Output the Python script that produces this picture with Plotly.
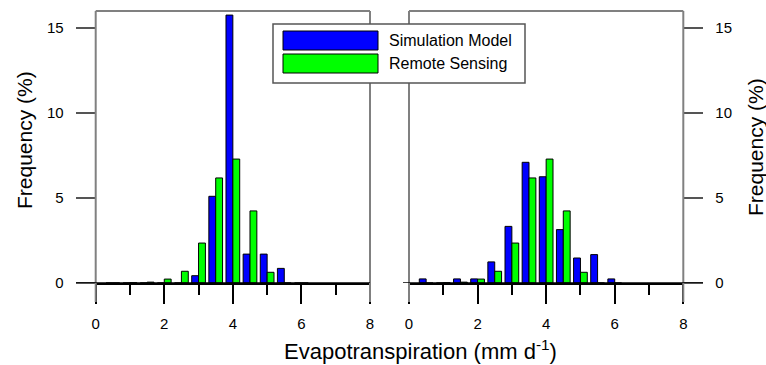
import plotly.graph_objects as go

# ---- data ----
bins = [0.5, 1.0, 1.5, 2.0, 2.5, 3.0, 3.5, 4.0, 4.5, 5.0, 5.5, 6.0]
sim_left = [0, 0, 0, 0, 0, 0.43, 5.1, 15.76, 1.7, 1.7, 0.86, 0]
sim_right = [0.24, 0, 0.24, 0.24, 1.24, 3.33, 7.10, 6.25, 3.14, 1.47, 1.67, 0.24]
remote = [0, 0.02, 0.05, 0.23, 0.69, 2.35, 6.18, 7.29, 4.24, 0.63, 0, 0]
x_ticks = [0, 2, 4, 6, 8]
y_ticks = [0, 5, 10, 15]
series_names = ["Simulation Model", "Remote Sensing"]
x_title = "Evapotranspiration (mm d<sup>-1</sup>)"
y_title = "Frequency (%)"

W, H = 766, 365
BLUE, GREEN = "#0000ff", "#00ff00"
FRAME = "#808080"
FONT = "Arial, Liberation Sans, sans-serif"


def px(x):
    return x / W


def py(y):
    return 1 - y / H


L1, R1 = 95.7, 370.0
L2, R2 = 409.0, 683.3
TOP, BOT = 11.0, 283.0

fig = go.Figure()
for xa, ya, sim in (("x", "y", sim_left), ("x2", "y2", sim_right)):
    fig.add_bar(x=bins, y=sim, width=0.2, offset=-0.2, xaxis=xa, yaxis=ya,
                marker=dict(color=BLUE, line=dict(color="black", width=1)),
                name=series_names[0], showlegend=False)
    fig.add_bar(x=bins, y=remote, width=0.2, offset=0, xaxis=xa, yaxis=ya,
                marker=dict(color=GREEN, line=dict(color="black", width=1)),
                name=series_names[1], showlegend=False)

xaxis_common = dict(range=[0, 8], tickvals=x_ticks, ticks="outside", ticklen=19,
                    tickwidth=1.5, tickcolor="black", showgrid=False, zeroline=False,
                    showline=True, linecolor="black", linewidth=1.5, automargin=False,
                    tickfont=dict(family=FONT, size=15, color="black"),
                    minor=dict(ticks="outside", ticklen=10, tickwidth=1.5, dtick=1,
                               tickcolor="black", showgrid=False),
                    ticklabelstandoff=7, fixedrange=True)
yaxis_common = dict(range=[0, 16], tickvals=y_ticks, ticks="outside", ticklen=19,
                    tickwidth=1.5, tickcolor="#555555", showgrid=False, zeroline=False,
                    showline=False, automargin=False,
                    tickfont=dict(family=FONT, size=15, color="black"),
                    ticklabelstandoff=9, fixedrange=True)

fig.update_layout(
    template="none",
    width=W, height=H, autosize=False,
    margin=dict(l=0, r=0, t=0, b=0, pad=0),
    paper_bgcolor="white", plot_bgcolor="rgba(0,0,0,0)",
    showlegend=False, barmode="overlay",
    xaxis=dict(domain=[px(L1), px(R1)], anchor="y", **xaxis_common),
    yaxis=dict(domain=[py(BOT), py(TOP)], anchor="x", side="left", **yaxis_common),
    xaxis2=dict(domain=[px(L2), px(R2)], anchor="y2", **xaxis_common),
    yaxis2=dict(domain=[py(BOT), py(TOP)], anchor="x2", side="right", **yaxis_common),
)

shapes = []
# frames (gray), extending down to the major tick length
for l, r in ((L1, R1), (L2, R2)):
    shapes.append(dict(type="line", xref="paper", yref="paper", x0=px(l), x1=px(r),
                       y0=py(TOP), y1=py(TOP), line=dict(color=FRAME, width=2)))
    for xx in (l, r):
        shapes.append(dict(type="line", xref="paper", yref="paper", x0=px(xx), x1=px(xx),
                           y0=py(TOP), y1=py(302), line=dict(color=FRAME, width=2)))
# zero baselines (black)
shapes.append(dict(type="line", xref="paper", yref="y", x0=px(76), x1=px(R1), y0=0, y1=0,
                   line=dict(color="black", width=1.5)))
shapes.append(dict(type="line", xref="paper", yref="y2", x0=px(403), x1=px(703), y0=0, y1=0,
                   line=dict(color="black", width=1.5)))
# legend box
shapes.append(dict(type="rect", xref="paper", yref="paper", x0=px(273), x1=px(525),
                   y0=py(83), y1=py(24), fillcolor="white", line=dict(color="#555555", width=1.5)))
shapes.append(dict(type="rect", xref="paper", yref="paper", x0=px(283), x1=px(378),
                   y0=py(50), y1=py(31), fillcolor=BLUE, line=dict(color="black", width=1)))
shapes.append(dict(type="rect", xref="paper", yref="paper", x0=px(283), x1=px(378),
                   y0=py(73), y1=py(54), fillcolor=GREEN, line=dict(color="black", width=1)))
fig.update_layout(shapes=shapes)

ann = []
ann.append(dict(text=series_names[0], x=px(387), y=py(40.5), xref="paper", yref="paper",
                xanchor="left", yanchor="middle", showarrow=False,
                font=dict(family=FONT, size=16, color="black")))
ann.append(dict(text=series_names[1], x=px(387), y=py(63.5), xref="paper", yref="paper",
                xanchor="left", yanchor="middle", showarrow=False,
                font=dict(family=FONT, size=16, color="black")))
ann.append(dict(text=x_title, x=px(420), y=py(350), xref="paper", yref="paper",
                xanchor="center", yanchor="middle", showarrow=False,
                font=dict(family=FONT, size=22, color="black")))
ann.append(dict(text=y_title, x=px(24), y=py(140), xref="paper", yref="paper",
                xanchor="center", yanchor="middle", showarrow=False, textangle=-90,
                font=dict(family=FONT, size=21, color="black")))
ann.append(dict(text=y_title, x=px(755), y=py(147), xref="paper", yref="paper",
                xanchor="center", yanchor="middle", showarrow=False, textangle=-90,
                font=dict(family=FONT, size=21, color="black")))
fig.update_layout(annotations=ann)

fig.write_html("out.html")
